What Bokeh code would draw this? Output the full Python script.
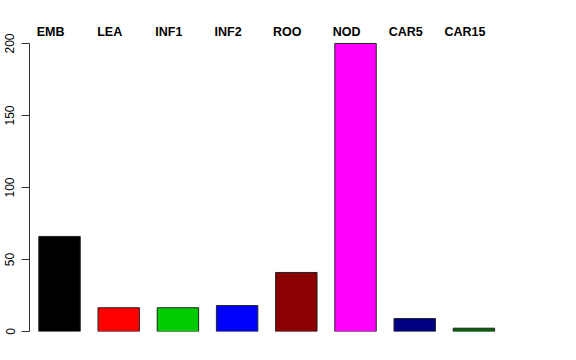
from bokeh.plotting import figure
from bokeh.models import ColumnDataSource, Range1d
from bokeh.embed import file_html
from bokeh.resources import INLINE
from bokeh.core.properties import value

categories = ["EMB", "LEA", "INF1", "INF2", "ROO", "NOD", "CAR5", "CAR15"]
counts = [66, 16.5, 16.5, 18, 41, 200, 9, 2.3]
colors = ["#000000", "#FF0000", "#00CD00", "#0000FF", "#8B0000", "#FF00FF", "#000080", "#006400"]
y_ticks = [0, 50, 100, 150, 200]

xs = list(range(1, len(categories) + 1))
src = ColumnDataSource(dict(x=xs, top=counts, color=colors, name=categories,
                            ly=[max(y_ticks) + 8.3] * len(xs)))

p = figure(width=576, height=360, output_backend="svg", toolbar_location=None,
           x_range=Range1d(0.493, 9.226), y_range=Range1d(0, 222.9),
           min_border_left=29, min_border_right=30, min_border_top=10, min_border_bottom=29)
p.outline_line_color = None
p.xaxis.visible = False
p.xgrid.visible = False
p.ygrid.visible = False

p.vbar(x="x", top="top", width=0.7, bottom=0, fill_color="color",
       line_color="#222222", line_width=1, source=src)

p.text(x="x", y="ly", text="name", source=src, text_align="center", text_baseline="middle",
       x_offset=-9, text_font=value("Liberation Sans"), text_font_style="bold",
       text_font_size="12.5px", text_color="black")

yax = p.yaxis[0]
yax.ticker = y_ticks
yax.bounds = (0, 200)
yax.major_label_orientation = "vertical"
yax.major_label_text_font = "Liberation Sans"
yax.major_label_text_font_size = "12px"
yax.major_label_text_color = "black"
yax.axis_line_color = "#333333"
yax.major_tick_line_color = "#333333"
yax.major_tick_out = 8
yax.major_tick_in = 0
yax.minor_tick_line_color = None
yax.major_label_standoff = 7

open("out.html", "w").write(file_html(p, INLINE))
